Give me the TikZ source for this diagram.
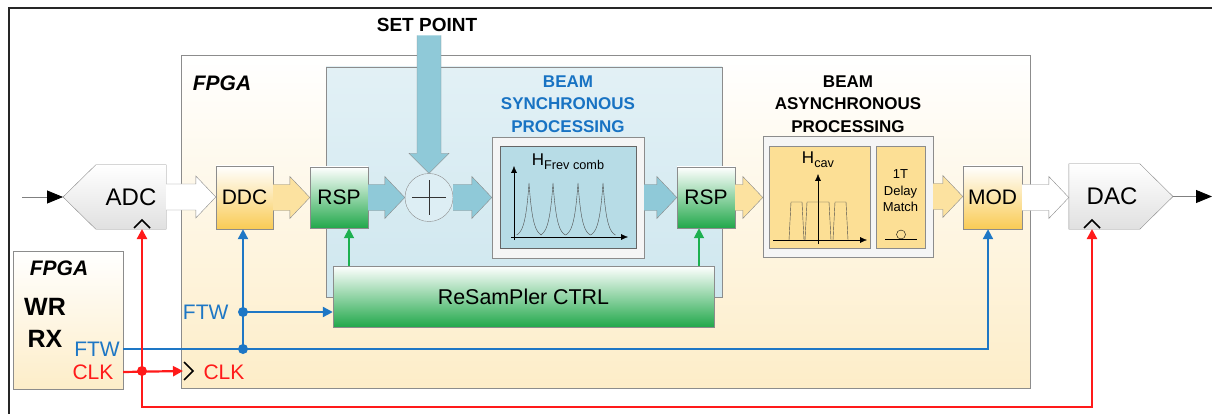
\documentclass[tikz,border=0pt]{standalone}
\usepackage{fontspec}
\setmainfont{Liberation Sans}
\usetikzlibrary{calc,arrows.meta}

\definecolor{fpgabg}{HTML}{FDEDC8}
\definecolor{syncbg}{HTML}{CFE7EF}
\definecolor{combbg}{HTML}{B7DCE6}
\definecolor{blarr}{HTML}{8FC9D8}
\definecolor{bgarr}{HTML}{FCE2A0}
\definecolor{asyncbg}{HTML}{FCDF95}
\definecolor{rspgreen}{HTML}{22A84B}
\definecolor{modyel}{HTML}{F9CB55}
\definecolor{ftwblue}{HTML}{1E77C5}
\definecolor{clkred}{HTML}{FF1A1A}
\definecolor{ctrlgreen}{HTML}{1DB050}
\definecolor{framegray}{HTML}{8C8C8C}
\definecolor{synctxt}{HTML}{1873C3}

\newcommand{\fsz}[2]{\fontsize{#1}{#2}\selectfont}
% wide arrow between two blocks on one row
\newcommand{\fatarrow}[3]{%
  \draw[draw=framegray,fill=#3] ($(#1.east)+(0,-13)$) -- ($(#2.west|-#1.east)+(-20,-13)$)
    -- ($(#2.west|-#1.east)+(-20,-21)$) -- (#2.west|-#1.east) -- ($(#2.west|-#1.east)+(-20,21)$)
    -- ($(#2.west|-#1.east)+(-20,13)$) -- ($(#1.east)+(0,13)$);}
% clock marker
\newcommand{\clkmark}[1]{\draw[line width=1.6pt] ($(#1)+(-8,-1)$) -- ($(#1)+(0,-9)$) -- ($(#1)+(8,-1)$);}

\begin{document}
\begin{tikzpicture}[x=1pt,y=-1pt,
    blk/.style={draw=framegray,inner sep=0pt},
    fpgabox/.style={blk,top color=white,bottom color=fpgabg},
    grnblk/.style={blk,top color=white,middle color=rspgreen!45,bottom color=rspgreen},
    yelblk/.style={blk,top color=white,middle color=modyel!55,bottom color=modyel},
    convblk/.style={inner sep=0pt,font=\fsz{24}{24}},
    ftwline/.style={ftwblue,line width=2.2pt,-{Triangle[length=10pt,width=10pt]}},
    clkline/.style={clkred,line width=2.2pt},
    ctrlline/.style={ctrlgreen,line width=1.8pt,-{Triangle[length=10pt,width=10pt]}},
    sigline/.style={draw=gray,line width=0.8pt,-{Triangle[length=16pt,width=13pt,color=black]}},
    dot/.style={circle,fill,inner sep=0pt,minimum size=10pt}]
  \useasboundingbox (0,0) rectangle (1212,414);
  \draw[line width=1.2pt,black!85] (9,414) -- (9,8) -- (1212,8);

  % boxes
  \node[fpgabox,minimum width=849,minimum height=333] (fpga) at (605.5,221.5) {};
  \node[font=\bfseries\itshape\fsz{21}{21}] (fpgalbl) at (222,83) {FPGA};
  \node[fpgabox,minimum width=110,minimum height=138] (wrfpga) at (68,320) {};
  \node[font=\bfseries\itshape\fsz{21}{21}] (wrlbl) at (59,268) {FPGA};
  \node[font=\bfseries\fsz{25}{25}] (wr) at (45,307) {WR};
  \node[font=\bfseries\fsz{25}{25}] (rx) at (45,339) {RX};
  \node[font=\fsz{21}{21},text=ftwblue] (ftwrx) at (97,349) {FTW};
  \node[font=\fsz{21}{21},text=clkred] (clkrx) at (93,372) {CLK};

  \node[blk,top color=syncbg!60,bottom color=syncbg,minimum width=396,minimum height=230] (sync) at (524,182) {};
  \node[align=center,font=\bfseries\fsz{17}{22.5},text=synctxt] (synclbl) at (568,104) {BEAM\\SYNCHRONOUS\\PROCESSING};
  \node[align=center,font=\bfseries\fsz{17}{22.5}] (asynclbl) at (848,104) {BEAM\\ASYNCHRONOUS\\PROCESSING};
  \node[font=\bfseries\fsz{19}{19}] (setpt) at (427,25) {SET POINT};

  \node[grnblk,minimum width=58,minimum height=61,font=\fsz{21}{21}] (rsp1) at (339,197.5) {RSP};
  \node[grnblk,minimum width=58,minimum height=61,font=\fsz{21}{21}] (rsp2) at (706,197.5) {RSP};
  \node[yelblk,minimum width=57,minimum height=63,font=\fsz{21}{21}] (ddc) at (244.5,197.5) {DDC};
  \node[yelblk,minimum width=59,minimum height=63,font=\fsz{21}{21}] (mod) at (992.5,197.5) {MOD};
  \node[blk,top color=white,bottom color=rspgreen,minimum width=381,minimum height=61,font=\fsz{21.4}{21.4}] (ctrl) at (523.5,296.5) {ReSamPler CTRL};
  \node[circle,draw=framegray,fill=syncbg!70,minimum size=48pt,inner sep=0pt] (sum) at (429,197.5) {};
  \draw[black!80] ($(sum)+(-17,0)$) -- ($(sum)+(17,0)$) ($(sum)+(0,-17)$) -- ($(sum)+(0,17)$);

  % comb filter
  \node[blk,fill=black!4,minimum width=152,minimum height=121] (combframe) at (568,197.5) {};
  \node[draw=black!60,fill=combbg,minimum width=136,minimum height=102,inner sep=0pt] (comb) at (568,197) {};
  \node[font=\fsz{17}{17}] (comblbl) at (568,162) {H\raisebox{-4pt}{\fsz{12.7}{12.7}Frev comb}};
  \draw[-{Latex[length=7pt,width=6pt]}] (514,240) -- (514,166);
  \draw[-{Latex[length=7pt,width=6pt]}] (511,237) -- (628,237);
  \foreach \p in {529,553,578,603}
    \draw[black!70,thin] plot[domain=-12.5:12.5,samples=61] ({\p+\x},{237-54*exp(-abs(\x)/3.8)});

  % cavity filter and delay
  \node[blk,fill=black!4,minimum width=170,minimum height=121] (asyncframe) at (848,196.5) {};
  \node[blk,fill=asyncbg,minimum width=101,minimum height=102] (hcav) at (819.5,197) {};
  \node[blk,fill=asyncbg,minimum width=49,minimum height=102] (delay) at (900.5,197) {};
  \node[font=\fsz{17}{17}] (hcavlbl) at (818,160) {H\raisebox{-4pt}{\fsz{12.7}{12.7}cav}};
  \draw[-{Latex[length=7pt,width=6pt]}] (818,244) -- (818,174);
  \draw[-{Latex[length=7pt,width=6pt]}] (773,240) -- (867,240);
  \draw[black!70] (789,240) -- (791,202) -- (802,202) -- (804,240)
                  (805,240) -- (807,202) -- (829,202) -- (831,240)
                  (833,240) -- (835,202) -- (846,202) -- (848,240);
  \node[align=center,font=\fsz{13}{16.5}] (delaylbl) at (900.5,191) {1T\\Delay\\Match};
  \draw (885,239) -- (917,239);
  \draw (901,234.5) circle (4.5);

  % converters
  \node[convblk,minimum width=70,minimum height=64] (adc) at (131,197) {ADC};
  \node[convblk,minimum width=86,minimum height=65] (dac) at (1112,196.5) {DAC};
  \coordinate (adctip) at (63,197);
  \coordinate (dactip) at (1173,196.5);
  \path[draw=framegray,top color=white,bottom color=black!12]
    (adc.north east) -- (adc.north west) -- (adctip) -- (adc.south west) -- (adc.south east) -- cycle;
  \path[draw=framegray,top color=white,bottom color=black!12]
    (dac.north west) -- ($(dac.north west)+(71,0)$) -- (dactip) -- ($(dac.south west)+(71,0)$) -- (dac.south west) -- cycle;
  \node[convblk] at (adc) {ADC};
  \node[convblk] at (dac) {DAC};
  \coordinate (adcclk) at (142,229);
  \coordinate (dacclk) at (1092,229);
  \clkmark{adcclk}
  \clkmark{dacclk}
  \coordinate (in) at (22,197);
  \coordinate (out) at (1212,196.5);
  \draw[sigline] (in) -- (adctip);
  \draw[sigline] (dactip) -- (out);

  % wide arrows
  \fatarrow{adc}{ddc}{white}
  \fatarrow{ddc}{rsp1}{bgarr}
  \fatarrow{rsp1}{sum}{blarr}
  \fatarrow{sum}{combframe}{blarr}
  \fatarrow{combframe}{rsp2}{blarr}
  \fatarrow{rsp2}{asyncframe}{bgarr}
  \fatarrow{asyncframe}{mod}{bgarr}
  \fatarrow{mod}{dac}{white}
  \draw[draw=framegray,fill=blarr] ($(sum.north|-setpt.south)+(-12,0)$) -- ($(sum.north)+(-12,-20)$)
    -- ($(sum.north)+(-20,-20)$) -- (sum.north) -- ($(sum.north)+(20,-20)$)
    -- ($(sum.north)+(12,-20)$) -- ($(sum.north|-setpt.south)+(12,0)$);

  % resampler control
  \coordinate (g1) at (349,0);
  \coordinate (g2) at (699,0);
  \draw[ctrlline] (ctrl.north-|g1) -- (rsp1.south-|g1);
  \draw[ctrlline] (ctrl.north-|g2) -- (rsp2.south-|g2);

  % FTW distribution
  \coordinate (ftwsplit) at (243,312);
  \coordinate (ftwjoin) at (243,349);
  \coordinate (modin) at (988,0);
  \node[font=\fsz{21}{21},text=ftwblue,anchor=east] (ftwlbl) at (232,312) {FTW};
  \draw[ftwline] (wrfpga.east|-ftwrx) -| (mod.south-|modin);
  \draw[ftwline] (ftwjoin) -- (ddc.south-|ftwjoin);
  \draw[ftwline] (ftwsplit) -- (ctrl.west|-ftwsplit);
  \node[dot,ftwblue] at (ftwsplit) {};
  \node[dot,ftwblue] at (ftwjoin) {};

  % clock distribution
  \coordinate (clksplit) at (142,371);
  \coordinate (clkin) at (183,371);
  \node[font=\fsz{21}{21},text=clkred] (clklbl) at (224,372) {CLK};
  \draw[line width=1.6pt] (184,362) -- (193,371) -- (184,380);
  \draw[clkline,-{Triangle[length=10pt,width=10pt]}] (wrfpga.east|-clkrx) -- (clkin);
  \draw[clkline,{Triangle[length=10pt,width=10pt]}-{Triangle[length=10pt,width=10pt]}]
    (adcclk) -- (adcclk|-0,407) -| (dacclk);
  \node[dot,clkred] at (clksplit) {};
\end{tikzpicture}
\end{document}
